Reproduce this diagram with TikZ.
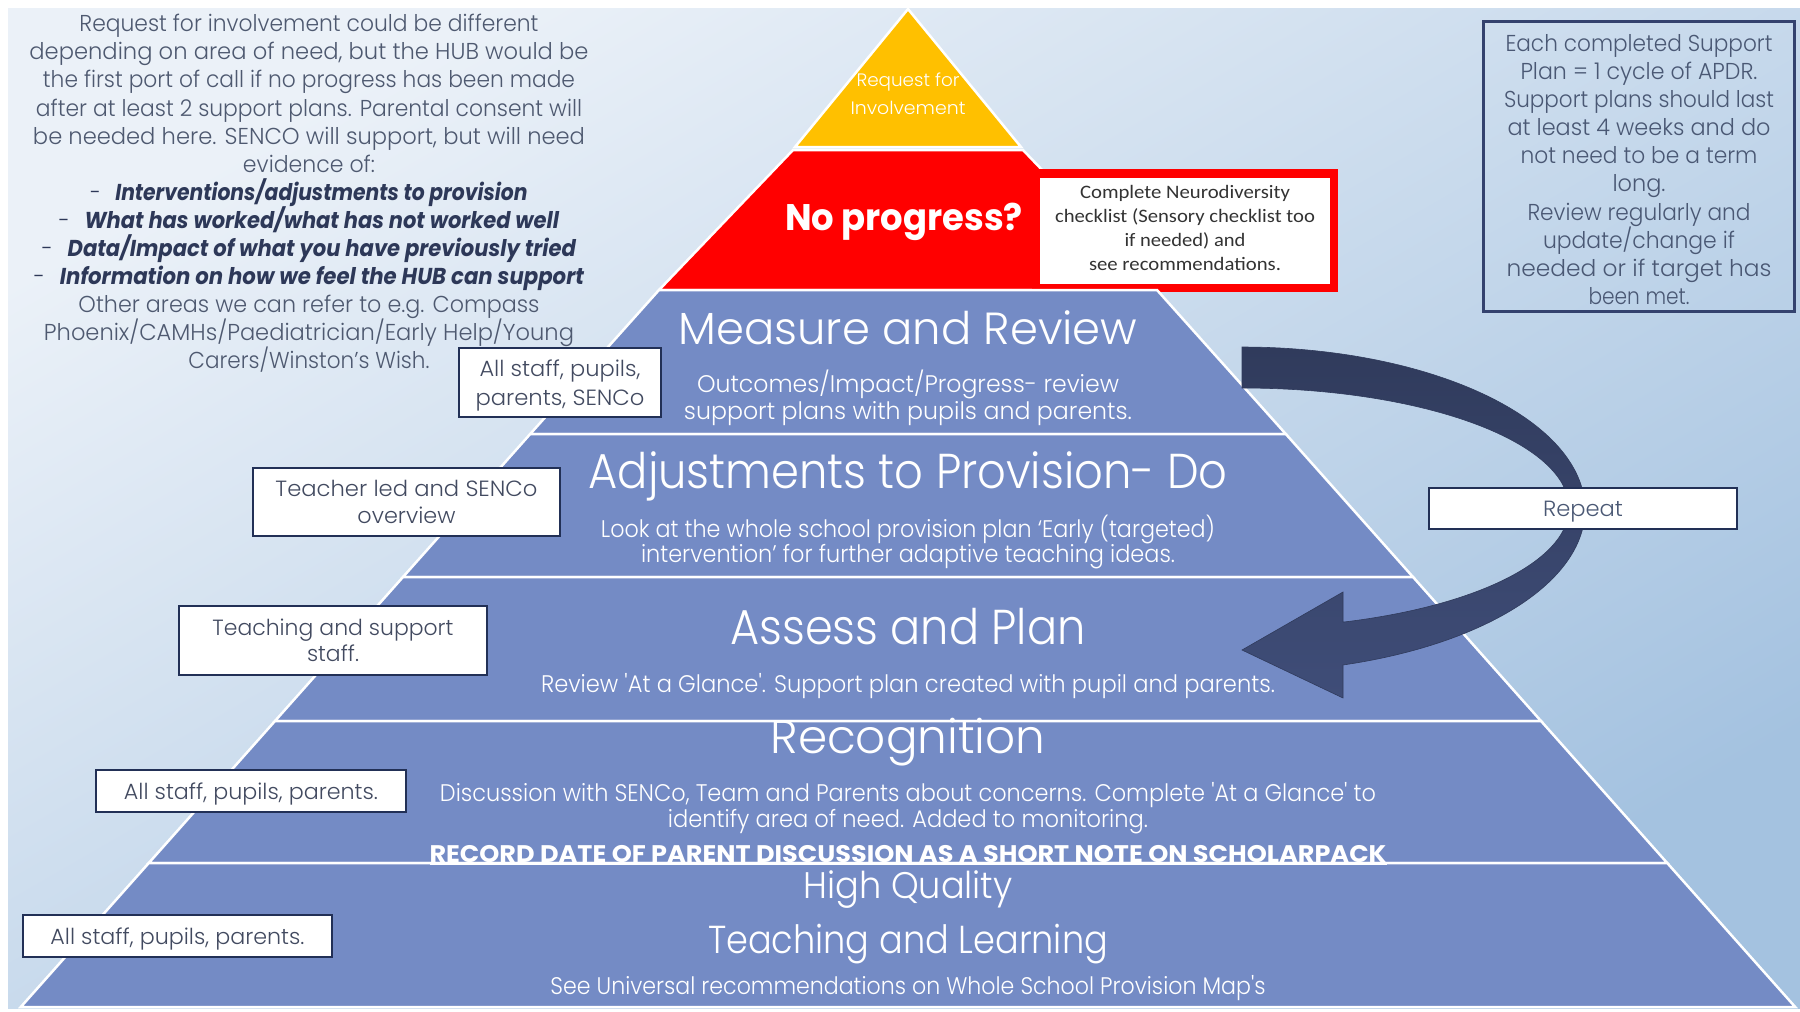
\documentclass[tikz,border=0pt]{standalone}
\usepackage{fontspec}
\usepackage{graphicx}
\setmainfont{Poppins}
\newfontfamily\plight{Poppins Light}
\newfontfamily\carl{Carlito}
\definecolor{bandblue}{RGB}{116,139,197}
\definecolor{pyryellow}{RGB}{255,192,0}
\definecolor{pyrred}{RGB}{255,0,0}
\definecolor{txtgray}{RGB}{78,89,112}
\definecolor{txtnavy}{RGB}{45,56,88}
\definecolor{lblnavy}{RGB}{34,48,86}
\definecolor{lbltext}{RGB}{66,74,96}
\definecolor{notenavy}{RGB}{52,66,110}
\definecolor{notetext}{RGB}{74,88,116}
\definecolor{arrowtop}{RGB}{48,59,92}
\definecolor{arrowbot}{RGB}{63,77,120}
\definecolor{bgA}{RGB}{235,241,248}
\definecolor{bgB}{RGB}{164,194,224}
\pgfdeclarehorizontalshading{bgshade}{100bp}{color(0bp)=(bgA); color(25bp)=(bgA); color(75bp)=(bgB); color(100bp)=(bgB)}
\newcommand\fitw[2]{\resizebox{#1pt}{\height}{#2}}
\begin{document}
\begin{tikzpicture}[x=1pt,y=-1pt,
  band/.style={fill=bandblue,draw=white,line width=2.5pt},
  lbl/.style={draw=lblnavy,line width=2.5pt,fill=white,inner sep=0pt,align=center,text=lbltext},
  head/.style={text=white,inner sep=0pt,align=center},
  body/.style={text=white,inner sep=0pt,align=center}]
\useasboundingbox (0,0) rectangle (1800,1012);
\fill[white] (0,0) rectangle (1800,1012);
\shade[shading=bgshade,shading angle=-60] (8,8) rectangle (1800,1008);

% pyramid
\path[band,fill=pyryellow] (908,9) -- (1021,147) -- (795,147) -- cycle;
\path[band,fill=pyrred] (793,150) -- (1023,150) -- (1157,290) -- (659,290) -- cycle;
\node[fill=pyrred,minimum width=306pt,minimum height=123pt,inner sep=0pt] (redbox) at (1185,230.5) {};
\node[fill=white,minimum width=290pt,minimum height=106pt,inner sep=0pt] (ndbox) at (1185,231) {};
\path[band] (659,290) -- (1157,290) -- (1285.8,434) -- (530.2,434) -- cycle;
\path[band] (530.2,434) -- (1285.8,434) -- (1413,577) -- (403,577) -- cycle;
\path[band] (403,577) -- (1413,577) -- (1541,721) -- (275,721) -- cycle;
\path[band] (275,721) -- (1541,721) -- (1667.2,863) -- (148.8,863) -- cycle;
\path[band] (148.8,863) -- (1667.2,863) -- (1795.2,1007) -- (20.8,1007) -- cycle;

% curved repeat arrow
\coordinate (arrtail) at (1242,347);
\coordinate (arrtip) at (1242,650);
\shade[top color=arrowtop,bottom color=arrowbot,draw=arrowtop,line width=0.6pt]
  plot[domain=0:162.87,samples=80,smooth] ({1242+343*sin(\x)},{509.6-162.6*cos(\x)})
  -- (1343,698) -- (arrtip) -- (1343,592) -- (1343,622)
  -- plot[domain=162:0,samples=80,smooth] ({1242+327*sin(\x)},{508-120*cos(\x)})
  -- cycle;

% texts in pyramid
\node[text=white,inner sep=0pt,align=center,font=\plight\fontsize{18}{28}\selectfont] (request) at (908,94)
  {\fitw{103}{Request for}\\\fitw{115}{Involvement}};
\node[text=white,inner sep=0pt,font=\bfseries\fontsize{37}{40}\selectfont] (noprog) at (904,222)
  {\fitw{238}{No progress?}};
\node[inner sep=0pt,align=center,text=black!80,font=\carl\fontsize{19}{24}\selectfont] (ndtext) at (1185,228)
  {\fitw{210}{Complete Neurodiversity}\\\fitw{260}{checklist (Sensory checklist too}\\\fitw{121}{if needed) and}\\\fitw{192}{see recommendations.}};

\node[head,font=\plight\fontsize{45}{48}\selectfont] (measure) at (908,328) {\fitw{459}{Measure and Review}};
\node[body,font=\plight\fontsize{24}{27}\selectfont] (measuretxt) at (908,398)
  {\fitw{422}{Outcomes/Impact/Progress- review}\\\fitw{448}{support plans with pupils and parents.}};
\node[head,font=\plight\fontsize{49}{50}\selectfont] (adjust) at (908,476) {\fitw{639}{Adjustments to Provision- Do}};
\node[body,font=\plight\fontsize{24}{24}\selectfont] (adjusttxt) at (908,542)
  {\fitw{614}{Look at the whole school provision plan ‘Early (targeted)}\\\fitw{534}{intervention’ for further adaptive teaching ideas.}};
\node[head,font=\plight\fontsize{49}{50}\selectfont] (assess) at (908,627) {\fitw{355}{Assess and Plan}};
\node[body,font=\plight\fontsize{24}{26}\selectfont] (assesstxt) at (908,686)
  {\fitw{734}{Review \textquotesingle At a Glance\textquotesingle. Support plan created with pupil and parents.}};
\node[head,font=\plight\fontsize{47}{50}\selectfont] (recog) at (908,742) {\fitw{275}{Recognition}};
\node[body,font=\plight\fontsize{24}{26}\selectfont] (recogtxt) at (908,808)
  {\fitw{936}{Discussion with SENCo, Team and Parents about concerns. Complete \textquotesingle At a Glance\textquotesingle\ to}\\\fitw{480}{identify area of need. Added to monitoring.}};
\node[body,font=\bfseries\fontsize{24}{26}\selectfont] (record) at (908,855)
  {\fitw{957}{\underline{RECORD DATE OF PARENT DISCUSSION AS A SHORT NOTE ON SCHOLARPACK}}};
\node[head,font=\plight\fontsize{37}{40}\selectfont] (hq) at (908,890) {\fitw{209}{High Quality}};
\node[head,font=\plight\fontsize{39}{40}\selectfont] (tl) at (908,944) {\fitw{400}{Teaching and Learning}};
\node[body,font=\plight\fontsize{24}{26}\selectfont] (seeuniv) at (908,988)
  {\fitw{715}{See Universal recommendations on Whole School Provision Map\textquotesingle s}};

% left note
\node[inner sep=0pt,align=center,text=txtgray,font=\plight\fontsize{23}{28.08}\selectfont] (leftnote) at (309,193.5)
  {\fitw{459}{Request for involvement could be different}\\
   \fitw{559}{depending on area of need, but the HUB would be}\\
   \fitw{532}{the first port of call if no progress has been made}\\
   \fitw{546}{after at least 2 support plans. Parental consent will}\\
   \fitw{552}{be needed here. SENCO will support, but will need}\\
   \fitw{132}{evidence of:}\\
   {\color{txtnavy}\fitw{437}{-\hspace{0.7em}{\rmfamily\bfseries\itshape Interventions/adjustments to provision}}}\\
   {\color{txtnavy}\fitw{500}{-\hspace{0.7em}{\rmfamily\bfseries\itshape What has worked/what has not worked well}}}\\
   {\color{txtnavy}\fitw{534}{-\hspace{0.7em}{\rmfamily\bfseries\itshape Data/Impact of what you have previously tried}}}\\
   {\color{txtnavy}\fitw{550}{-\hspace{0.7em}{\rmfamily\bfseries\itshape Information on how we feel the HUB can support}}}\\
   \fitw{461}{Other areas we can refer to e.g. Compass}\\
   \fitw{530}{Phoenix/CAMHs/Paediatrician/Early Help/Young}\\
   \fitw{241}{Carers/Winston’s Wish.}};

% right note
\node[draw=notenavy,line width=3pt,minimum width=311pt,minimum height=290pt,inner sep=0pt] (note) at (1638.5,166) {};
\node[inner sep=0pt,align=center,text=notetext,font=\plight\fontsize{23}{28.1}\selectfont] (notetext) at (1639,169.5)
  {\fitw{267}{Each completed Support}\\
   \fitw{237}{Plan = 1 cycle of APDR.}\\
   \fitw{270}{Support plans should last}\\
   \fitw{263}{at least 4 weeks and do}\\
   \fitw{237}{not need to be a term}\\
   \fitw{53}{long.}\\
   \fitw{223}{Review regularly and}\\
   \fitw{192}{update/change if}\\
   \fitw{265}{needed or if target has}\\
   \fitw{101}{been met.}};

% labels
\node[lbl,minimum width=202pt,minimum height=69pt,text depth=0pt,font=\plight\fontsize{22}{29}\selectfont] (lblA) at (560,382.5)
  {\fitw{161}{All staff, pupils,}\\\fitw{169}{parents, SENCo}};
\node[lbl,minimum width=307pt,minimum height=68pt,font=\plight\fontsize{22}{27}\selectfont] (lblB) at (406.5,502)
  {\fitw{262}{Teacher led and SENCo}\\\fitw{98}{overview}};
\node[lbl,minimum width=308pt,minimum height=69pt,font=\plight\fontsize{22}{26}\selectfont] (lblC) at (333,640.5)
  {\fitw{241}{Teaching and support}\\\fitw{52}{staff.}};
\node[lbl,minimum width=310pt,minimum height=42pt,text depth=0pt,font=\plight\fontsize{22}{26}\selectfont] (lblD) at (251,791)
  {\fitw{254}{All staff, pupils, parents.}};
\node[lbl,minimum width=309pt,minimum height=42pt,text depth=0pt,font=\plight\fontsize{22}{26}\selectfont] (lblE) at (177.5,936)
  {\fitw{254}{All staff, pupils, parents.}};
\node[lbl,minimum width=308pt,minimum height=41pt,text depth=0pt,text=notetext,font=\plight\fontsize{22}{26}\selectfont] (repeat) at (1583,508.5)
  {\fitw{80}{Repeat}};
\end{tikzpicture}
\end{document}
